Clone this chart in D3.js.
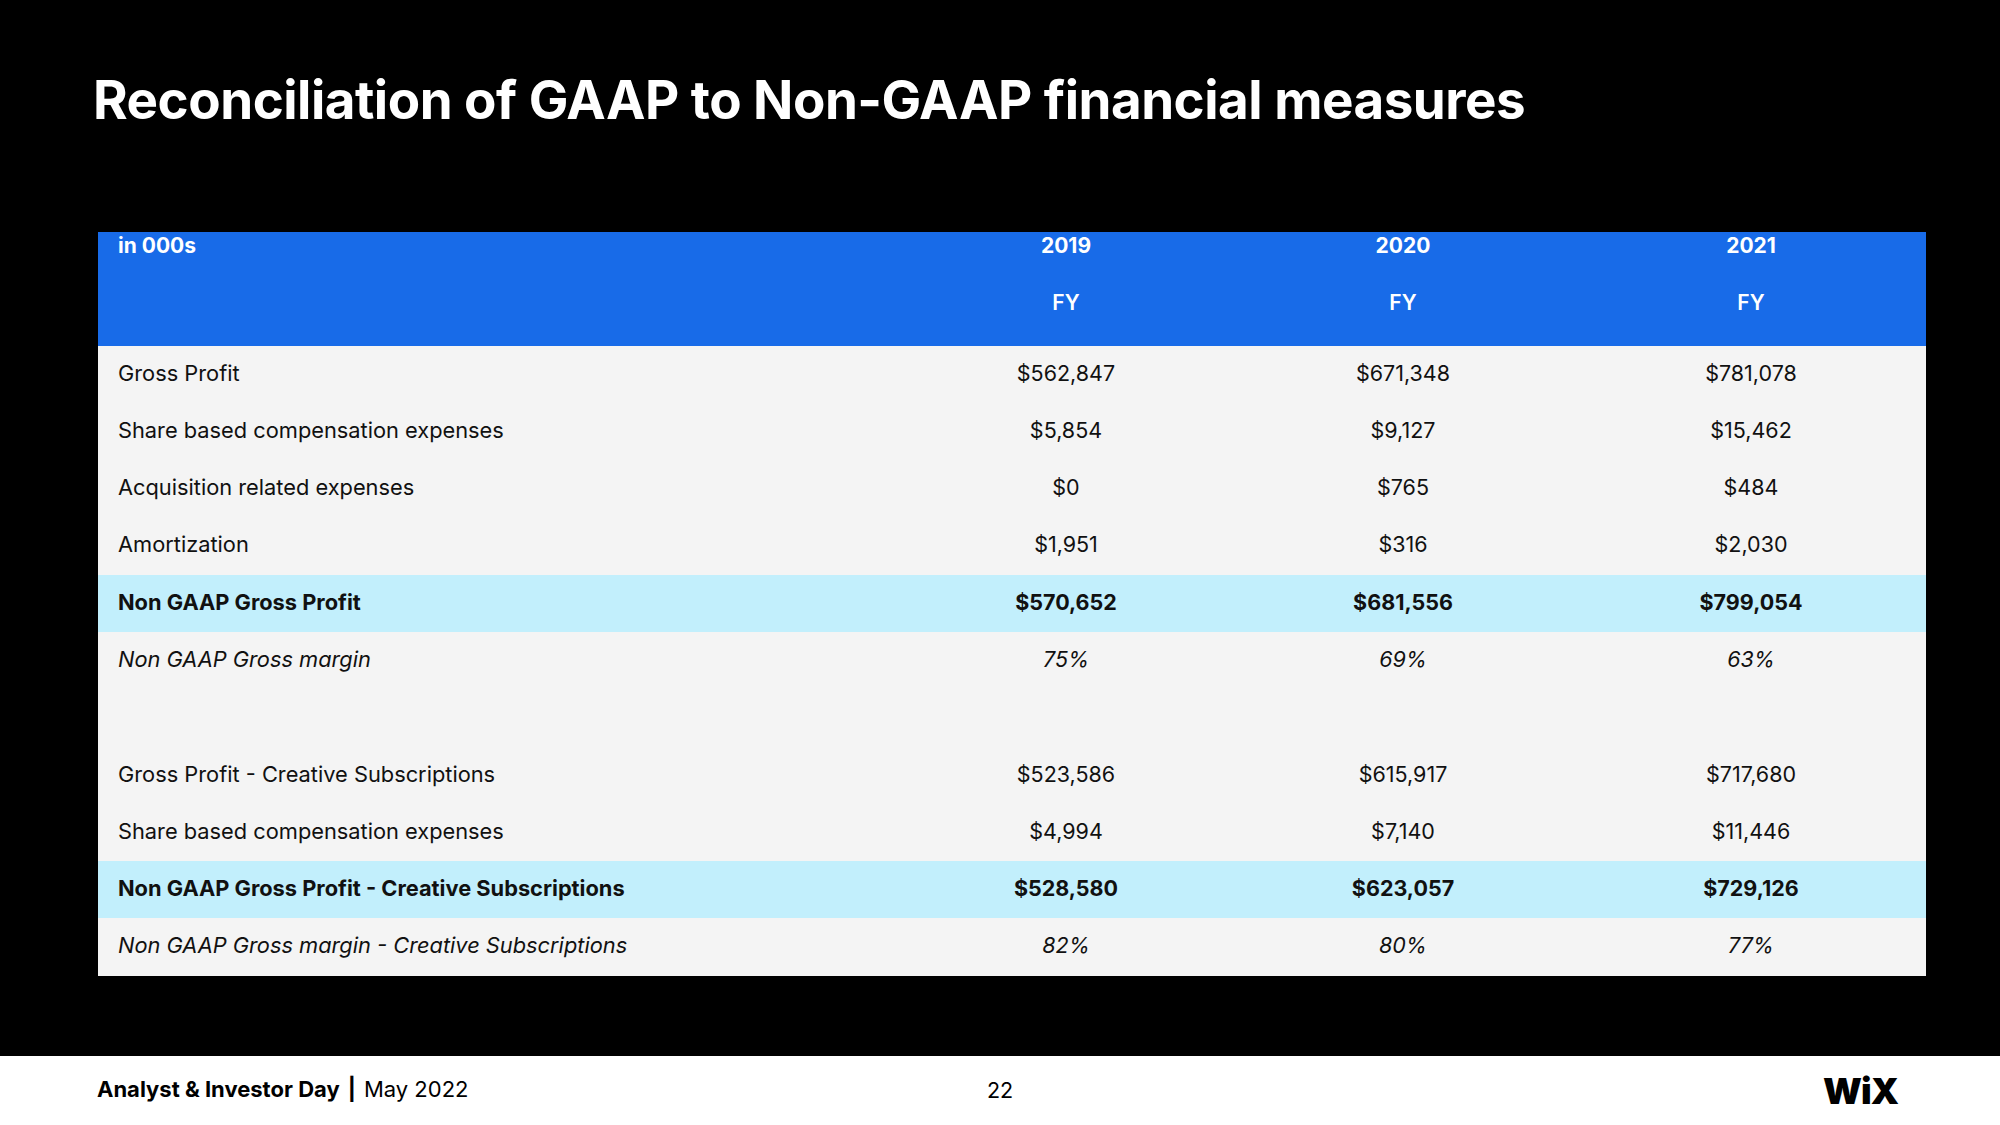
<!DOCTYPE html>
<html>
<head>
<meta charset="utf-8">
<script src="https://cdn.jsdelivr.net/npm/d3@7"></script>
<style>
  html, body { margin: 0; padding: 0; background: #000; }
  svg { display: block; }
  text { font-family: Inter, "Noto Sans", sans-serif; }
</style>
</head>
<body>
<svg id="chart" width="2000" height="1125"></svg>
<script>
// ---------- data ----------
const title = "Reconciliation of GAAP to Non-GAAP financial measures";
const unitLabel = "in 000s";
const years = ["2019", "2020", "2021"];
const periods = ["FY", "FY", "FY"];
const rowLabels = [
  "Gross Profit",
  "Share based compensation expenses",
  "Acquisition related expenses",
  "Amortization",
  "Non GAAP Gross Profit",
  "Non GAAP Gross margin",
  "",
  "Gross Profit - Creative Subscriptions",
  "Share based compensation expenses",
  "Non GAAP Gross Profit - Creative Subscriptions",
  "Non GAAP Gross margin - Creative Subscriptions"
];
// row kinds: item, subtotal, margin, spacer
const rowKinds = ["item", "item", "item", "item", "subtotal", "margin", "spacer", "item", "item", "subtotal", "margin"];
const values2019 = [562847, 5854, 0, 1951, 570652, 0.75, null, 523586, 4994, 528580, 0.82];
const values2020 = [671348, 9127, 765, 316, 681556, 0.69, null, 615917, 7140, 623057, 0.80];
const values2021 = [781078, 15462, 484, 2030, 799054, 0.63, null, 717680, 11446, 729126, 0.77];
const footerBold = "Analyst & Investor Day";
const footerDate = "May 2022";
const pageNumber = "22";
const logoText = "WiX";

// ---------- layout ----------
const svg = d3.select("#chart");
const W = 2000, H = 1125;
const tableLeft = 98, tableRight = 1926;
const headerTop = 232, headerBottom = 346, tableBottom = 976;
const labelX = 118;

const colors = {
  bg: "#000000",
  header: "#186BE8",
  row: "#F4F4F4",
  subtotal: "#C2EFFC",
  text: "#111111",
  white: "#FFFFFF"
};

svg.append("rect").attr("width", W).attr("height", H).attr("fill", colors.bg);

// Title
const titleText = svg.append("text")
  .attr("x", 93).attr("y", 119)
  .attr("fill", colors.white)
  .attr("font-weight", 700)
  .attr("font-size", 56)
  .attr("letter-spacing", -0.5)
  .text(title);
(function fit(el, target) {
  const w = el.node().getComputedTextLength();
  const fs = +el.attr("font-size");
  el.attr("font-size", fs * target / w);
})(titleText, 1434);

// Scales
const rowIdx = d3.range(rowLabels.length);
const y = d3.scaleBand().domain(rowIdx).range([headerBottom, tableBottom]).padding(0);
const x = d3.scaleOrdinal().domain(years).range([1066, 1403, 1751]);
const headerY = d3.scaleBand().domain(["year", "period"]).range([headerTop, headerBottom]);

// Header background
svg.append("rect")
  .attr("x", tableLeft).attr("y", headerTop)
  .attr("width", tableRight - tableLeft).attr("height", headerBottom - headerTop)
  .attr("fill", colors.header);

svg.append("text")
  .attr("x", labelX).attr("y", headerY("year") + 13)
  .attr("dominant-baseline", "central")
  .attr("fill", colors.white).attr("font-weight", 700).attr("font-size", 21)
  .text(unitLabel);

svg.selectAll("text.year").data(years).join("text")
  .attr("class", "year")
  .attr("x", d => x(d)).attr("y", headerY("year") + 13)
  .attr("text-anchor", "middle").attr("dominant-baseline", "central")
  .attr("fill", colors.white).attr("font-weight", 700).attr("font-size", 21)
  .text(d => d);

svg.selectAll("text.period").data(years.map((yr, i) => ({ yr, p: periods[i] }))).join("text")
  .attr("class", "period")
  .attr("x", d => x(d.yr)).attr("y", headerY("period") + 13)
  .attr("text-anchor", "middle").attr("dominant-baseline", "central")
  .attr("fill", colors.white).attr("font-weight", 600).attr("font-size", 21)
  .text(d => d.p);

// Body background (one piece, no seams) + subtotal bands
svg.append("rect")
  .attr("x", tableLeft).attr("y", headerBottom)
  .attr("width", tableRight - tableLeft).attr("height", tableBottom - headerBottom)
  .attr("fill", colors.row);

svg.selectAll("rect.subbg").data(rowIdx.filter(i => rowKinds[i] === "subtotal")).join("rect")
  .attr("class", "subbg")
  .attr("x", tableLeft).attr("y", i => Math.round(y(i)))
  .attr("width", tableRight - tableLeft).attr("height", Math.round(y.bandwidth()))
  .attr("fill", colors.subtotal);

// Row labels
const weightOf = k => k === "subtotal" ? 700 : 400;
const styleOf = k => k === "margin" ? "italic" : "normal";

svg.selectAll("text.label").data(rowIdx).join("text")
  .attr("class", "label")
  .attr("x", labelX).attr("y", i => y(i) + y.bandwidth() / 2 - 2)
  .attr("dominant-baseline", "central")
  .attr("fill", colors.text)
  .attr("font-size", 21.8)
  .attr("font-weight", i => weightOf(rowKinds[i]))
  .attr("font-style", i => styleOf(rowKinds[i]))
  .text(i => rowLabels[i]);

// Values
const money = d3.format("$,");
const pct = d3.format(".0%");
const series = [values2019, values2020, values2021];
const cells = [];
series.forEach((vals, c) => vals.forEach((v, r) => {
  if (v !== null) cells.push({ year: years[c], row: r, v });
}));

svg.selectAll("text.val").data(cells).join("text")
  .attr("class", "val")
  .attr("x", d => x(d.year)).attr("y", d => y(d.row) + y.bandwidth() / 2 - 2)
  .attr("text-anchor", "middle").attr("dominant-baseline", "central")
  .attr("fill", colors.text)
  .attr("font-size", 21.5)
  .attr("font-weight", d => weightOf(rowKinds[d.row]))
  .attr("font-style", d => styleOf(rowKinds[d.row]))
  .text(d => rowKinds[d.row] === "margin" ? pct(d.v) : money(d.v));

// Footer
svg.append("rect").attr("x", 0).attr("y", 1056).attr("width", W).attr("height", H - 1056).attr("fill", colors.white);

const foot = svg.append("text").attr("x", 97).attr("y", 1097)
  .attr("fill", "#000").attr("font-size", 22);
foot.append("tspan").attr("font-weight", 700).text(footerBold);
foot.append("tspan").attr("font-weight", 700).attr("dx", 8).text("|");
foot.append("tspan").attr("font-weight", 400).attr("dx", 8).text(footerDate);

svg.append("text").attr("x", 1000).attr("y", 1098)
  .attr("text-anchor", "middle").attr("fill", "#000").attr("font-size", 21.5)
  .text(pageNumber);

svg.append("text").attr("x", 1898).attr("y", 1104)
  .attr("text-anchor", "end").attr("fill", "#000")
  .attr("font-size", 36).attr("font-weight", 900).attr("letter-spacing", -1)
  .text(logoText);
</script>
</body>
</html>
